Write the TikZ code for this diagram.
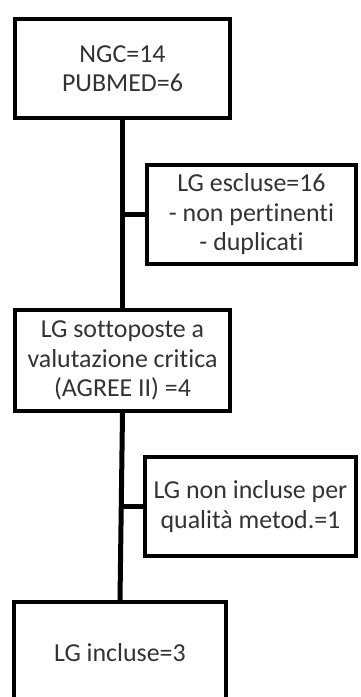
\documentclass[tikz,border=0pt]{standalone}
\usepackage{fontspec}
\setmainfont[Ligatures={NoCommon}]{Carlito}
\begin{document}
\begin{tikzpicture}[x=1pt,y=1pt,
  box/.style={draw=black, line width=4pt, fill=white, inner sep=0pt, align=center,
    text=black!80, font=\fontsize{25.9}{29.5}\selectfont},
  link/.style={draw=black, line width=5pt}]
\useasboundingbox (0,0) rectangle (360,-697);
\clip (0,0) rectangle (360,-697);
\node[box, minimum width=215pt, minimum height=99pt] (b1) at (122.5,-68.5) {NGC=14\\PUBMED=6};
\node[box, minimum width=209pt, minimum height=99pt] (b2) at (251.5,-214.5) {LG escluse=16\\- non pertinenti\\- duplicati};
\node[box, minimum width=215pt, minimum height=101pt] (b3) at (122.5,-360.5) {LG sottoposte a\\valutazione critica\\(AGREE II) =4};
\node[box, minimum width=211pt, minimum height=99pt] (b4) at (250.5,-506.5) {LG non incluse per\\qualità metod.=1};
\node[box, minimum width=212pt, minimum height=102pt] (b5) at (120,-653) {LG incluse=3};
\coordinate (j1) at (b1.south |- b2.west);
\coordinate (j2) at (b3.south |- b4.west);
\draw[link] (b1.south) -- (b3.north);
\draw[link] (j1) -- (b2.west);
\draw[link] (b3.south) -- (b5.north);
\draw[link] (j2) -- (b4.west);
\end{tikzpicture}
\end{document}
